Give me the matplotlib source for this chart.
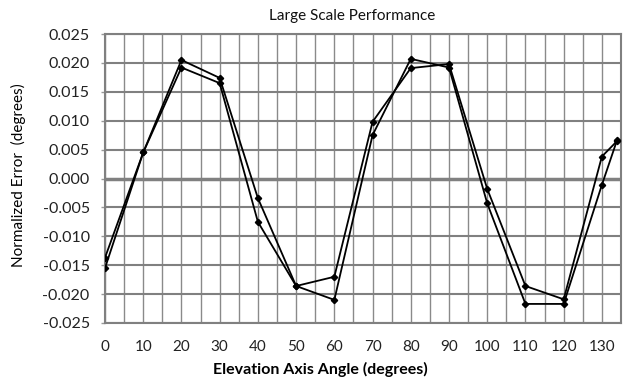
import matplotlib
matplotlib.use("Agg")
import matplotlib.pyplot as plt
import numpy as np

angles = [0, 10, 20, 30, 40, 50, 60, 70, 80, 90, 100, 110, 120, 130, 134]
series_a = [-0.0137, 0.0045, 0.0205, 0.0174, -0.0034, -0.0186, -0.0170, 0.0098,
            0.0191, 0.0198, -0.0018, -0.0186, -0.0209, 0.0038, 0.0065]
series_b = [-0.0155, 0.0045, 0.0192, 0.0165, -0.0075, -0.0186, -0.0210, 0.0075,
            0.0207, 0.0192, -0.0043, -0.0217, -0.0217, -0.0011, 0.0067]
x_ticks = list(range(0, 131, 10))
y_ticks = [-0.025, -0.020, -0.015, -0.010, -0.005, 0.000, 0.005, 0.010, 0.015, 0.020, 0.025]

plt.rcParams['font.family'] = ['Lato', 'DejaVu Sans']

fig = plt.figure(figsize=(6.24, 3.81), dpi=100)
ax = fig.add_axes([105/624, 1 - 323/381, (621-105)/624, (323-34)/381])

ax.set_xlim(0, 135)
ax.set_ylim(-0.025, 0.025)

# grid
for xv in np.arange(0, 136, 5):
    ax.axvline(xv, color='#8a8a8a', lw=1.0, zorder=1)
for yv in y_ticks:
    ax.axhline(yv, color='#808080', lw=1.5 if yv != 0 else 2.5, zorder=1)

ax.plot(angles, series_a, color='black', lw=1.3, marker='D', markersize=3.2, zorder=3)
ax.plot(angles, series_b, color='black', lw=1.3, marker='D', markersize=3.2, zorder=3)

ax.set_xticks(x_ticks)
ax.set_xticklabels([str(v) for v in x_ticks])
ax.set_yticks(y_ticks)
ax.set_yticklabels([f"{v:.3f}" for v in y_ticks])
ax.tick_params(axis='x', length=0, labelsize=11, colors='#222222', pad=12)
ax.tick_params(axis='y', length=3, width=1, color='#999999', labelsize=11.5,
               labelcolor='#222222', pad=8)

for s in ax.spines.values():
    s.set_color('#808080')
    s.set_linewidth(1.5)

fig.text(352/624, 1 - 16/381, "Large Scale Performance", fontsize=11,
         ha='center', va='center', color='#111111')
ax.set_xlabel("Elevation Axis Angle (degrees)", fontsize=11.5, fontweight='bold')
ax.xaxis.set_label_coords((320-105)/516, (323-369)/289)
ax.xaxis.label.set_va('center')
ax.set_ylabel("Normalized Error  (degrees)", fontsize=11)
ax.yaxis.set_label_coords((18-105)/516, (323-175)/289)
ax.yaxis.label.set_va('center')

fig.savefig("out.png", dpi=100)
